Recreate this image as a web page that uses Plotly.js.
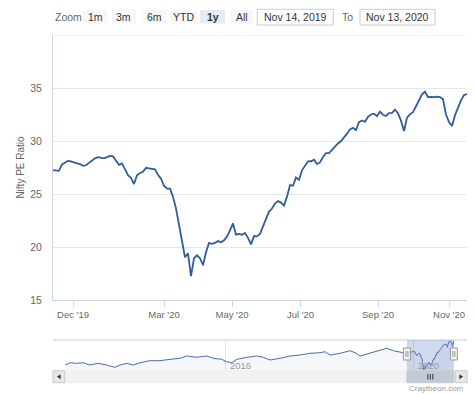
<!DOCTYPE html>
<html>
<head>
<meta charset="utf-8">
<script src="https://cdn.plot.ly/plotly-3.0.1.min.js"></script>
<style>
html,body{margin:0;padding:0;background:#fff;}
#chart{width:474px;height:394px;}
</style>
</head>
<body>
<div id="chart"></div>
<script>
// ---------- DATA ----------
const dates = [
"2019-11-14","2019-11-17","2019-11-19","2019-11-22","2019-11-24","2019-11-27","2019-11-29",
"2019-12-02","2019-12-05","2019-12-08","2019-12-11","2019-12-14","2019-12-17","2019-12-20","2019-12-23","2019-12-26","2019-12-29",
"2020-01-01","2020-01-04","2020-01-07","2020-01-10","2020-01-13","2020-01-16","2020-01-19","2020-01-22","2020-01-25","2020-01-28","2020-01-31",
"2020-02-03","2020-02-06","2020-02-09","2020-02-12","2020-02-15","2020-02-18","2020-02-21","2020-02-24","2020-02-27",
"2020-03-01","2020-03-03","2020-03-06","2020-03-09","2020-03-12","2020-03-14","2020-03-17","2020-03-20","2020-03-22","2020-03-25","2020-03-28","2020-03-31",
"2020-04-02","2020-04-05","2020-04-08","2020-04-10","2020-04-13","2020-04-16","2020-04-19","2020-04-21","2020-04-24","2020-04-27","2020-04-29",
"2020-05-02","2020-05-05","2020-05-07","2020-05-10","2020-05-13","2020-05-15","2020-05-18","2020-05-21","2020-05-23","2020-05-26","2020-05-29","2020-05-31",
"2020-06-03","2020-06-06","2020-06-08","2020-06-11","2020-06-14","2020-06-16","2020-06-19","2020-06-22","2020-06-24","2020-06-27","2020-06-30",
"2020-07-02","2020-07-05","2020-07-07","2020-07-10","2020-07-12","2020-07-14","2020-07-17","2020-07-19","2020-07-22","2020-07-24","2020-07-26","2020-07-29","2020-07-31",
"2020-08-03","2020-08-05","2020-08-07","2020-08-10","2020-08-12","2020-08-15","2020-08-17","2020-08-19","2020-08-22","2020-08-24","2020-08-27","2020-08-29","2020-08-31",
"2020-09-03","2020-09-06","2020-09-08","2020-09-11","2020-09-13","2020-09-16","2020-09-18","2020-09-21","2020-09-23","2020-09-26","2020-09-29",
"2020-10-01","2020-10-04","2020-10-06","2020-10-09","2020-10-11","2020-10-14","2020-10-17","2020-10-19","2020-10-22","2020-10-24","2020-10-27","2020-10-29",
"2020-11-01","2020-11-03","2020-11-05","2020-11-07","2020-11-09","2020-11-11","2020-11-13"
];
const peValues = [
27.25,27.23,27.19,27.79,27.97,28.13,28.08,
27.97,27.89,27.83,27.66,27.71,27.94,28.13,28.36,28.47,28.41,
28.36,28.48,28.59,28.55,28.17,27.75,27.89,27.38,26.77,26.53,25.94,
26.77,26.98,27.09,27.47,27.42,27.38,27.33,26.81,26.44,
25.78,25.50,25.50,24.75,23.63,22.13,20.53,19.03,19.41,17.25,18.94,19.22,
18.94,18.28,19.50,20.39,20.30,20.39,20.56,20.44,20.63,21.00,21.56,
22.22,21.16,21.23,21.16,21.33,20.86,20.25,21.03,21.00,21.23,21.94,22.81,
23.34,23.63,24.09,24.33,24.19,23.91,24.75,25.85,25.78,26.56,26.34,
27.23,27.70,28.08,28.09,28.24,27.82,27.98,28.50,28.85,28.85,29.19,29.48,29.77,
30.00,30.31,30.69,31.10,31.24,31.03,31.78,31.93,31.81,32.28,32.50,32.58,32.34,
32.77,32.48,32.36,32.63,32.66,32.97,32.63,31.92,30.94,32.20,32.51,
32.72,33.28,33.84,34.41,34.65,34.13,34.17,34.14,34.19,34.14,33.94,32.50,
31.78,31.41,32.44,33.14,33.84,34.33,34.43
];
// longer history shown in the navigator (before the selected year)
const historyDates = [
"2012-08-06","2012-09-13","2012-11-03","2012-12-25","2013-02-14","2013-04-19","2013-06-24","2013-08-27",
"2013-10-07","2013-11-28","2014-01-19","2014-03-12","2014-05-28","2014-08-14","2014-10-31","2015-01-17",
"2015-03-09","2015-05-26","2015-08-11","2015-10-01","2015-12-05","2016-01-14","2016-02-22","2016-04-01",
"2016-06-18","2016-09-03","2016-10-24","2016-12-15","2017-03-03","2017-05-20","2017-08-06","2017-10-22",
"2018-01-08","2018-02-16","2018-03-27","2018-06-13","2018-08-29","2018-10-07","2018-11-15","2019-02-01",
"2019-04-20","2019-06-11","2019-08-01","2019-10-19"
];
const historyValues = [
20.52,21.87,21.52,21.87,20.52,21.52,20.52,19.17,
20.52,21.52,20.52,21.87,23.05,23.05,23.87,24.45,
25.81,25.04,25.81,24.45,23.87,22.46,21.87,23.87,
25.04,25.81,25.04,23.46,24.45,25.81,26.39,27.39,
27.74,28.33,26.39,27.39,28.92,27.74,25.81,27.39,
29.33,30.32,28.92,27.74
];
const tickMonths = ["2019-12-01","2020-03-01","2020-05-01","2020-07-01","2020-09-01","2020-11-01"];
const tickLabels = ["Dec '19","Mar '20","May '20","Jul '20","Sep '20","Nov '20"];
const yTicks = [15, 20, 25, 30, 35];
const navYears = ["2016-01-01","2020-01-01"];
const navYearLabels = ["2016","2020"];
const zoomButtons = ["1m","3m","6m","YTD","1y","All"];
const selectedButton = "1y";
const yTitle = "Nifty PE Ratio";
const credit = "Craytheon.com";

// ---------- HELPERS ----------
const W = 474, H = 394;
const px = x => x / W;
const py = y => 1 - y / H;
const FONT = "'Liberation Sans', Arial, Helvetica, sans-serif";

// ordinal (trading-point) axis like Highstock: x = point index
const idx = dates.map((d, i) => i);
const tms = dates.map(d => Date.parse(d));
function ordinalPos(ds) {
  const T = Date.parse(ds);
  for (let i = 0; i < tms.length - 1; i++) {
    if (T >= tms[i] && T <= tms[i + 1]) return i + (T - tms[i]) / (tms[i + 1] - tms[i]);
  }
  return null;
}
const tickVals = tickMonths.map(ordinalPos);

function fmtDate(ds) {
  const m = ["Jan","Feb","Mar","Apr","May","Jun","Jul","Aug","Sep","Oct","Nov","Dec"];
  const p = ds.split("-");
  return m[+p[1] - 1] + " " + (+p[2]) + ", " + p[0];
}

// ---------- TRACES ----------
const mainTrace = {
  x: idx, y: peValues, type: "scatter", mode: "lines",
  line: {color: "#2f5e9a", width: 1.8}, hoverinfo: "skip",
  xaxis: "x", yaxis: "y"
};
const navTrace = {
  x: historyDates.concat(dates), y: historyValues.concat(peValues),
  type: "scatter", mode: "lines", fill: "tozeroy",
  fillcolor: "rgba(51,92,173,0.05)",
  line: {color: "#4a6da8", width: 1}, hoverinfo: "skip",
  xaxis: "x2", yaxis: "y2"
};

// ---------- SHAPES / ANNOTATIONS ----------
const shapes = [];
const annotations = [];

// top gridline at 40
shapes.push({type: "line", xref: "paper", yref: "y", x0: px(53), x1: px(467), y0: 40, y1: 40,
  line: {color: "#e6e6e6", width: 1}, layer: "below"});

// range selector
const btnBoxes = [[82.7,107.3],[111.7,136],[141.7,166.7],[170,196.7],[200,225],[230,253.3]];
annotations.push({xref: "paper", yref: "paper", x: px(53), y: py(16.7), xanchor: "left", yanchor: "middle",
  text: "Zoom", showarrow: false, font: {family: FONT, size: 10.5, color: "#666"}});
zoomButtons.forEach((b, i) => {
  const [a, c] = btnBoxes[i];
  const sel = b === selectedButton;
  shapes.push({type: "rect", xref: "paper", yref: "paper", x0: px(a), x1: px(c), y0: py(23.5), y1: py(10),
    fillcolor: sel ? "#e6ebf5" : "#f7f7f7", line: {width: 0}});
  annotations.push({xref: "paper", yref: "paper", x: px((a + c) / 2), y: py(16.7), xanchor: "center", yanchor: "middle",
    text: sel ? "<b>" + b + "</b>" : b, showarrow: false, font: {family: FONT, size: 10.5, color: "#333"}});
});
// date inputs
const boxes = [[257.3, 333.3, fmtDate(dates[0])], [360, 435, fmtDate(dates[dates.length - 1])]];
boxes.forEach(([a, c, t]) => {
  shapes.push({type: "rect", xref: "paper", yref: "paper", x0: px(a), x1: px(c), y0: py(25), y1: py(9.3),
    fillcolor: "#ffffff", line: {color: "#cccccc", width: 1}});
  annotations.push({xref: "paper", yref: "paper", x: px((a + c) / 2), y: py(17.2), xanchor: "center", yanchor: "middle",
    text: t, showarrow: false, font: {family: FONT, size: 10.5, color: "#333"}});
});
annotations.push({xref: "paper", yref: "paper", x: px(347.5), y: py(17.2), xanchor: "center", yanchor: "middle",
  text: "To", showarrow: false, font: {family: FONT, size: 10.5, color: "#666"}});

// navigator outline top
shapes.push({type: "line", xref: "paper", yref: "paper", x0: px(53), x1: px(467), y0: py(340), y1: py(340),
  line: {color: "#cccccc", width: 1}});
// navigator mask
const d0 = dates[0], d1 = dates[dates.length - 1];
shapes.push({type: "rect", xref: "x2", yref: "paper", x0: d0, x1: d1, y0: py(371), y1: py(340),
  fillcolor: "rgba(102,133,194,0.3)", line: {width: 0}});
// scrollbar track
shapes.push({type: "rect", xref: "paper", yref: "paper", x0: px(53), x1: px(467), y0: py(382.7), y1: py(370.7),
  fillcolor: "#f2f2f2", line: {color: "#f2f2f2", width: 1}});
// scrollbar thumb
shapes.push({type: "rect", xref: "x2", yref: "paper", x0: d0, x1: d1, y0: py(382.7), y1: py(370.7),
  fillcolor: "#c3cad6", line: {color: "#c3cad6", width: 1}});
[-2.5, 0, 2.5].forEach(o => {
  shapes.push({type: "line", xref: "x2", yref: "paper", xsizemode: "pixel", xanchor: "2020-05-14",
    x0: o, x1: o, y0: py(379.5), y1: py(374), line: {color: "#333", width: 1}});
});
// scrollbar buttons
[[53, 64.7, "L"], [455.3, 467, "R"]].forEach(([a, c, dir]) => {
  shapes.push({type: "rect", xref: "paper", yref: "paper", x0: px(a), x1: px(c), y0: py(382.7), y1: py(370.7),
    fillcolor: "#e6e6e6", line: {color: "#cccccc", width: 1}});
  const cx = (a + c) / 2, cy = 376.7;
  const path = dir === "L"
    ? `M ${px(cx - 1.5)} ${py(cy)} L ${px(cx + 1.5)} ${py(cy - 2)} L ${px(cx + 1.5)} ${py(cy + 2)} Z`
    : `M ${px(cx + 1.5)} ${py(cy)} L ${px(cx - 1.5)} ${py(cy - 2)} L ${px(cx - 1.5)} ${py(cy + 2)} Z`;
  shapes.push({type: "path", xref: "paper", yref: "paper", path: path, fillcolor: "#333", line: {color: "#333", width: 0.5}});
});
// handles
[d0, d1].forEach(d => {
  shapes.push({type: "rect", xref: "x2", yref: "paper", xsizemode: "pixel", xanchor: d, x0: -3.5, x1: 3.5,
    y0: py(360), y1: py(348), fillcolor: "#f2f2f2", line: {color: "#999999", width: 1}});
  [-1, 1].forEach(o => shapes.push({type: "line", xref: "x2", yref: "paper", xsizemode: "pixel", xanchor: d,
    x0: o, x1: o, y0: py(357), y1: py(351), line: {color: "#999999", width: 1}}));
});
// navigator year labels
navYears.forEach((d, i) => annotations.push({xref: "x2", yref: "paper", x: d, y: py(365), xanchor: "left", yanchor: "middle",
  xshift: 2.5, text: navYearLabels[i], showarrow: false, font: {family: FONT, size: 9.5, color: "#999"}}));
// credit
annotations.push({xref: "paper", yref: "paper", x: px(466), y: py(388), xanchor: "right", yanchor: "middle",
  text: credit, showarrow: false, font: {family: FONT, size: 8, color: "#999"}});

// ---------- LAYOUT ----------
const layout = {
  width: W, height: H,
  margin: {l: 0, r: 0, t: 0, b: 0, pad: 0},
  paper_bgcolor: "#ffffff", plot_bgcolor: "#ffffff",
  showlegend: false,
  font: {family: FONT, color: "#666"},
  xaxis: {
    domain: [px(53), px(467)], range: [0, dates.length - 1], anchor: "y",
    tickvals: tickVals, ticktext: tickLabels, ticks: "outside", ticklen: 6, tickcolor: "#ccd6eb",
    showgrid: false, zeroline: false, showline: true, linecolor: "#ccd6eb", linewidth: 1,
    tickfont: {family: FONT, size: 9.5, color: "#666"}, fixedrange: true
  },
  yaxis: {
    domain: [py(300), py(35)], range: [15, 40], anchor: "x",
    tickvals: yTicks, ticks: "", showgrid: true, gridcolor: "#e6e6e6", zeroline: false,
    showline: true, linecolor: "#ccd6eb", linewidth: 1,
    tickfont: {family: FONT, size: 10.5, color: "#666"},
    ticklabelstandoff: 8, ticklabelshift: -4.5,
    title: {text: yTitle, font: {family: FONT, size: 10, color: "#666"}, standoff: 3},
    fixedrange: true
  },
  xaxis2: {
    type: "date", domain: [px(53), px(467)], range: ["2012-05-04", "2021-02-23"], anchor: "y2",
    tickvals: navYears, showticklabels: false, ticks: "", showgrid: true, gridcolor: "#e6e6e6",
    zeroline: false, showline: false, fixedrange: true
  },
  yaxis2: {
    domain: [py(371), py(340)], range: [17.0, 35.2], anchor: "x2",
    showgrid: false, showticklabels: false, ticks: "", zeroline: false, showline: false, fixedrange: true
  },
  shapes: shapes,
  annotations: annotations
};

Plotly.newPlot("chart", [navTrace, mainTrace], layout, {staticPlot: true, displayModeBar: false});
</script>
</body>
</html>
